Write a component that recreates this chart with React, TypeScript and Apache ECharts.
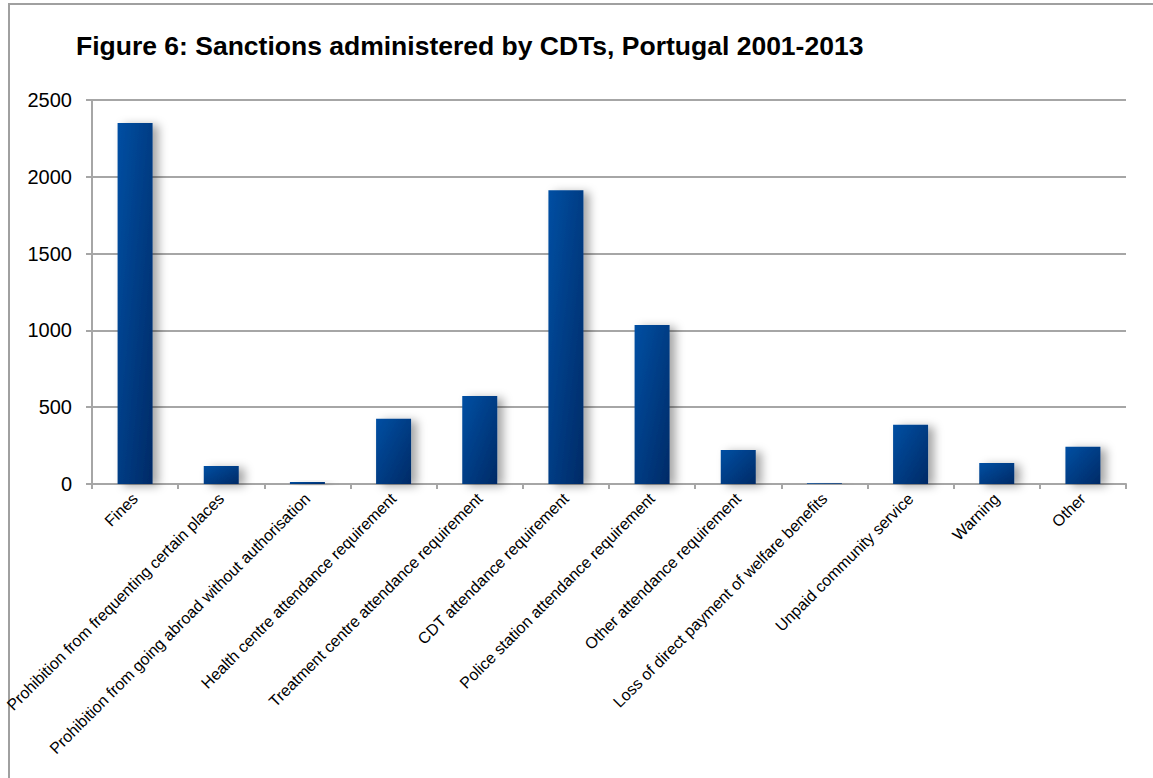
import React, { useEffect, useRef } from "react";
import * as echarts from "echarts";

const titleText = "Figure 6: Sanctions administered by CDTs, Portugal 2001-2013";

const categories = [
  "Fines",
  "Prohibition from frequenting certain places",
  "Prohibition from going abroad without authorisation",
  "Health centre attendance requirement",
  "Treatment centre attendance requirement",
  "CDT attendance requirement",
  "Police station attendance requirement",
  "Other attendance requirement",
  "Loss of direct payment of welfare benefits",
  "Unpaid community service",
  "Warning",
  "Other",
];

const sanctions = [2350, 118, 13, 425, 573, 1912, 1035, 222, 5, 385, 137, 242];

const yMin = 0;
const yMax = 2500;
const yInterval = 500;

export default function App() {
  const ref = useRef<HTMLDivElement>(null);

  useEffect(() => {
    if (!ref.current) return;
    const chart = echarts.init(ref.current, undefined, { renderer: "svg" });
    const gridColor = "#a6a6a6";
    chart.setOption({
      animation: false,
      backgroundColor: "#ffffff",
      textStyle: { fontFamily: "Liberation Sans, Arial, sans-serif" },
      graphic: [
        {
          type: "rect",
          shape: { x: 9, y: 4, width: 1200, height: 800 },
          style: { fill: "none", stroke: "#a0a0a0", lineWidth: 2 },
          silent: true,
        },
      ],
      title: {
        text: titleText,
        left: 71,
        top: 27,
        textStyle: {
          fontFamily: "Liberation Sans, Arial, sans-serif",
          fontWeight: "bold",
          fontSize: 26.5,
          color: "#000000",
        },
      },
      grid: { left: 92, top: 100, right: 27, bottom: 294 },
      xAxis: {
        type: "category",
        data: categories,
        axisLine: { lineStyle: { color: gridColor, width: 2 } },
        axisTick: { show: true, length: 5, lineStyle: { color: gridColor, width: 2 } },
        axisLabel: {
          rotate: 45,
          interval: 0,
          margin: 12,
          fontSize: 16,
          color: "#000000",
          fontFamily: "Liberation Sans, Arial, sans-serif",
        },
      },
      yAxis: {
        type: "value",
        min: yMin,
        max: yMax,
        interval: yInterval,
        axisLine: { show: true, lineStyle: { color: gridColor, width: 2 } },
        axisTick: { show: true, length: 6, lineStyle: { color: gridColor, width: 2 } },
        splitLine: { show: true, lineStyle: { color: gridColor, width: 2 } },
        axisLabel: {
          margin: 20,
          fontSize: 20,
          color: "#000000",
          fontFamily: "Liberation Sans, Arial, sans-serif",
          formatter: (v: number) => String(v),
        },
      },
      series: [
        {
          type: "bar",
          data: sanctions,
          barWidth: 35,
          itemStyle: {
            color: new echarts.graphic.LinearGradient(0, 0, 1, 1, [
              { offset: 0, color: "#004fa3" },
              { offset: 1, color: "#002a66" },
            ]),
            shadowColor: "rgba(0,0,0,0.35)",
            shadowBlur: 10,
            shadowOffsetX: 6,
            shadowOffsetY: 2,
          },
        },
      ],
    });
    return () => chart.dispose();
  }, []);

  return (
    <div
      ref={ref}
      style={{ position: "absolute", left: 0, top: 0, width: 1153, height: 778 }}
    />
  );
}
